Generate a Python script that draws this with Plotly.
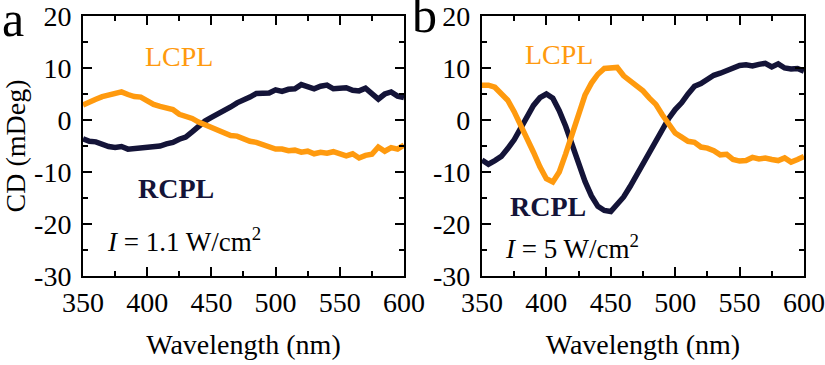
import plotly.graph_objects as go

wavelength = list(range(350, 601, 5))

a_lcpl = [2.9, 3.6, 4.0, 4.5, 4.8, 5.2, 5.4, 4.9, 4.5, 4.4, 3.6, 3.0, 2.6, 2.3, 2.0, 1.1, 0.7, 0.3,
          -0.4, -0.9, -1.5, -2.0, -2.6, -3.0, -3.1, -3.6, -4.1, -4.3, -4.8, -5.2, -5.6, -5.6, -5.9,
          -5.8, -6.2, -6.0, -6.5, -6.2, -6.4, -6.1, -6.6, -6.9, -6.5, -7.3, -6.8, -6.6, -5.2, -6.0,
          -5.3, -5.6, -4.8]
a_rcpl = [-3.6, -4.1, -4.2, -4.7, -5.1, -5.3, -5.1, -5.6, -5.5, -5.3, -5.3, -5.0, -5.0, -4.6, -4.3,
          -3.7, -3.3, -2.3, -1.2, -0.2, 0.5, 1.1, 1.7, 2.5, 3.3, 3.8, 4.4, 5.1, 5.1, 5.2, 5.8, 5.5,
          5.9, 6.0, 6.8, 6.3, 6.0, 6.5, 6.7, 6.0, 6.1, 6.2, 5.7, 5.6, 6.1, 5.0, 4.0, 5.0, 5.4, 4.6, 4.3]
b_lcpl = [6.7, 6.7, 6.3, 5.2, 3.8, 1.6, -0.9, -3.5, -6.2, -9.0, -11.3, -11.9, -10.0, -6.5, -2.5, 1.5,
          4.8, 7.1, 8.8, 9.9, 10.0, 10.1, 8.5, 7.5, 6.5, 5.6, 4.2, 3.0, 1.0, -0.9, -2.5, -3.3, -4.1,
          -4.3, -5.2, -5.4, -5.9, -6.7, -6.6, -7.6, -7.9, -7.8, -7.2, -7.5, -7.3, -7.6, -7.8, -7.3,
          -8.1, -7.6, -7.0]
b_rcpl = [-7.7, -8.5, -7.8, -7.0, -5.5, -3.8, -1.6, 0.8, 2.8, 4.3, 5.0, 4.2, 1.8, -1.2, -5.0, -8.8,
          -11.8, -14.6, -16.6, -17.4, -17.6, -16.2, -14.8, -12.8, -10.6, -8.3, -6.2, -4.0, -1.8, 0.3,
          2.0, 3.3, 5.0, 6.5, 7.0, 7.8, 8.6, 9.0, 9.5, 10.0, 10.5, 10.6, 10.4, 10.7, 10.9, 10.2, 10.8,
          10.0, 9.8, 9.9, 9.4]

y_tickvals = [-30, -20, -10, 0, 10, 20]
y_ticktext = ["-30", "-20", "-10", "0", "10", "20"]

ORANGE = "#FF9A0E"
NAVY = "#141438"
FONT = "Times New Roman, Liberation Serif, serif"

fig = go.Figure()
for xa, ya, l, r in [("x", "y", a_lcpl, a_rcpl), ("x2", "y2", b_lcpl, b_rcpl)]:
    fig.add_trace(go.Scatter(x=wavelength, y=r, mode="lines", xaxis=xa, yaxis=ya,
                             line=dict(color=NAVY, width=5.5), showlegend=False, cliponaxis=True))
    fig.add_trace(go.Scatter(x=wavelength, y=l, mode="lines", xaxis=xa, yaxis=ya,
                             line=dict(color=ORANGE, width=5.5), showlegend=False, cliponaxis=True))

common_x = dict(range=[350, 600], dtick=50, tick0=350, showline=True, linecolor="black", linewidth=2,
                mirror="allticks", ticks="inside", ticklen=9, tickwidth=2, tickcolor="black",
                minor=dict(dtick=25, ticks="inside", ticklen=5, tickwidth=2, tickcolor="black"),
                showgrid=False, zeroline=False, automargin=False,
                tickfont=dict(family=FONT, size=28, color="black"),
                title=dict(text="Wavelength (nm)", font=dict(family=FONT, size=28, color="black"), standoff=18))
common_y = dict(range=[-30, 20], tickvals=y_tickvals, ticktext=y_ticktext, showline=True,
                linecolor="black", linewidth=2, automargin=False,
                mirror="allticks", ticks="inside", ticklen=9, tickwidth=2, tickcolor="black",
                minor=dict(dtick=5, ticks="inside", ticklen=5, tickwidth=2, tickcolor="black"),
                showgrid=False, zeroline=False, ticklabelstandoff=4,
                tickfont=dict(family=FONT, size=28, color="black"),
                domain=[0.2438, 0.9562])

fig.update_layout(
    width=825, height=365, margin=dict(l=0, r=0, t=0, b=0, autoexpand=False),
    paper_bgcolor="white", plot_bgcolor="white",
    xaxis=dict(domain=[0.1006, 0.4897], anchor="y", **common_x),
    xaxis2=dict(domain=[0.5842, 0.9745], anchor="y2", **common_x),
    yaxis=dict(anchor="x", title=dict(text="CD (mDeg)", font=dict(family=FONT, size=28, color="black"), standoff=2), **common_y),
    yaxis2=dict(anchor="x2", **common_y),
)

ann = [
    dict(text="a", x=0.0, y=1.03, xref="paper", yref="paper", xanchor="left", yanchor="top",
         font=dict(family=FONT, size=50, color="black")),
    dict(text="b", x=0.497, y=1.04, xref="paper", yref="paper", xanchor="left", yanchor="top",
         font=dict(family=FONT, size=50, color="black")),
    dict(text="LCPL", x=0.30, y=12.2, xref="x domain", yref="y", xanchor="center", yanchor="middle",
         font=dict(family=FONT, size=28, color=ORANGE)),
    dict(text="<b>RCPL</b>", x=0.29, y=-13.2, xref="x domain", yref="y", xanchor="center", yanchor="middle",
         font=dict(family=FONT, size=28, color=NAVY)),
    dict(text="<i>I</i> = 1.1 W/cm<sup>2</sup>", x=0.07, y=-23.0, xref="x domain", yref="y", xanchor="left",
         yanchor="middle", font=dict(family=FONT, size=27, color="black")),
    dict(text="LCPL", x=0.24, y=12.6, xref="x2 domain", yref="y2", xanchor="center", yanchor="middle",
         font=dict(family=FONT, size=28, color=ORANGE)),
    dict(text="<b>RCPL</b>", x=0.205, y=-16.7, xref="x2 domain", yref="y2", xanchor="center", yanchor="middle",
         font=dict(family=FONT, size=28, color=NAVY)),
    dict(text="<i>I</i> = 5 W/cm<sup>2</sup>", x=0.065, y=-24.4, xref="x2 domain", yref="y2", xanchor="left",
         yanchor="middle", font=dict(family=FONT, size=27, color="black")),
]
for a in ann:
    fig.add_annotation(showarrow=False, **a)

fig.write_html("out.html")
